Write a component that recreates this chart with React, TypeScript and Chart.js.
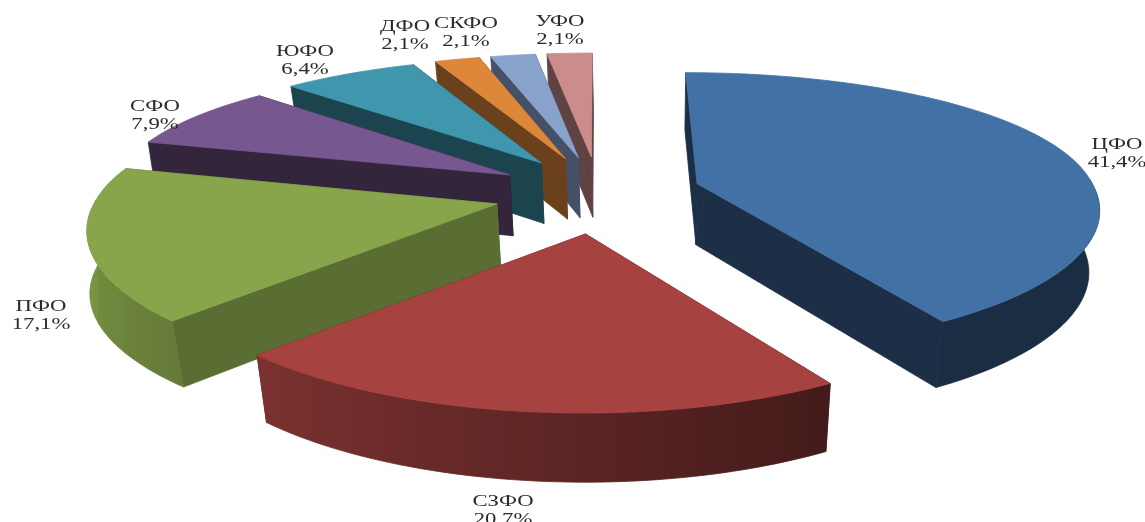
import React, { useEffect, useRef } from "react";
import { Chart, registerables } from "chart.js";

Chart.register(...registerables);

// Federal districts and their shares, percent
const districts = ["ЦФО", "СЗФО", "ПФО", "СФО", "ЮФО", "ДФО", "СКФО", "УФО"];
const shares = [41.4, 20.7, 17.1, 7.9, 6.4, 2.1, 2.1, 2.1];
const faceColors = ["#4271a6", "#a64341", "#88a54b", "#76578f", "#3f96ad", "#dd873b", "#89a2cc", "#cc8c8c"];
const sideShades = [0.42, 0.5, 0.66, 0.42, 0.45, 0.48, 0.5, 0.47];
const frontStretchV = [1.05, 1, 1.04, 1, 1, 1, 1, 1];
const frontStretchU = [1.025, 1.035, 1.015, 1, 1, 1, 1, 1];
const paintOrder = [7, 6, 5, 4, 3, 2, 0, 1];
const labelCenters = [
  [1117, 144.5], [503, 501.5], [41, 306.5], [155, 106.5], [305, 51.5], [405, 26.5], [466, 23.5], [560, 21.5],
];

// Oblique view of the pie plane
const VIEW = { cx: 598, cy: 193.7, rx: 399, ry: 133, px: 0.13, py: 0.17 };
const EXPLODE_X = 0.26;
const EXPLODE_Y = 0.29;

type Pt = [number, number];

function project(u: number, v: number): Pt {
  return [
    VIEW.cx + (VIEW.rx * u) / (1 - VIEW.px * v),
    VIEW.cy + (VIEW.ry * v) / (1 - VIEW.py * v),
  ];
}

// The bottom face sits below the top one and narrows slightly towards the vanishing point
function lower([x, y]: Pt): Pt {
  let shift = 0.024 * (650 - x);
  if (x < 172) shift = 3 + ((x - 87) / 85) * (0.024 * 478 - 3);
  return [x + shift, y + 61 + 0.035 * (y - 180)];
}

function shade(hex: string, f: number): string {
  const n = parseInt(hex.slice(1), 16);
  const c = [(n >> 16) & 255, (n >> 8) & 255, n & 255].map((ch) => Math.round(ch * f));
  return `rgb(${c[0]},${c[1]},${c[2]})`;
}

function fillPoly(ctx: CanvasRenderingContext2D, pts: Pt[], color: string | CanvasGradient) {
  ctx.beginPath();
  pts.forEach(([x, y], i) => (i ? ctx.lineTo(x, y) : ctx.moveTo(x, y)));
  ctx.closePath();
  ctx.fillStyle = color;
  ctx.strokeStyle = color;
  ctx.lineWidth = 0.8;
  ctx.lineJoin = "round";
  ctx.fill();
  ctx.stroke();
}

// Rim lighting falls off from the left of the pie towards the right
function rimShade(angle: number): number {
  let theta = ((angle + Math.PI / 2) * 180) / Math.PI;
  theta = ((theta % 360) + 360) % 360;
  if (theta > 285) return 0.92;
  return Math.min(0.92, Math.max(0.4, 0.4 + (theta - 149) * 0.0046));
}

function drawSlice(ctx: CanvasRenderingContext2D, arc: any, index: number) {
  const { startAngle, endAngle } = arc;
  const color = arc.options.backgroundColor as string;
  const mid = (startAngle + endAngle) / 2;
  const u0 = Math.cos(mid) * EXPLODE_X;
  const v0 = Math.sin(mid) * EXPLODE_Y;
  const apex = project(u0, v0);
  const steps = Math.max(2, Math.ceil((endAngle - startAngle) / 0.025));
  const rim: Pt[] = [];
  const angles: number[] = [];
  for (let i = 0; i <= steps; i++) {
    const a = startAngle + ((endAngle - startAngle) * i) / steps;
    const s = Math.sin(a);
    const c = Math.cos(a);
    const f = Math.max(s, 0);
    angles.push(a);
    rim.push(project(
      u0 + c * (1 + (frontStretchU[index] - 1) * f),
      v0 + s * (1 + (frontStretchV[index] - 1) * (s > 0 ? 1 : 0)),
    ));
  }

  // Radial walls first, then the part of the rim that faces the viewer, then the top face
  const sideColor = shade(color, sideShades[index]);
  const radial = [rim[0], rim[steps]].map((p) => ({
    pts: [apex, p, lower(p), lower(apex)] as Pt[],
    depth: (apex[1] + p[1]) / 2,
  }));
  radial.sort((a, b) => a.depth - b.depth);
  radial.forEach((w) => fillPoly(ctx, w.pts, sideColor));

  const front = rim.map((_, i) => i).filter((i) => Math.sin(angles[i]) > -0.05);
  if (front.length > 1) {
    const top = front.map((i) => rim[i]);
    const xs = top.map((p) => p[0]);
    const x0 = Math.min(...xs);
    const x1 = Math.max(...xs);
    const gradient = ctx.createLinearGradient(x0, 0, x1, 0);
    front.forEach((i) => {
      const stop = Math.min(1, Math.max(0, (rim[i][0] - x0) / (x1 - x0)));
      gradient.addColorStop(stop, shade(color, rimShade(angles[i])));
    });
    fillPoly(ctx, [...top, ...top.map(lower).reverse()], gradient);
  }
  fillPoly(ctx, [apex, ...rim], color);
}

function drawLabel(ctx: CanvasRenderingContext2D, index: number) {
  const [x, y] = labelCenters[index];
  const lines = [districts[index], `${shares[index].toFixed(1).replace(".", ",")}%`];
  ctx.fillStyle = "#2b2b2b";
  ctx.font = '16px "Liberation Serif"';
  ctx.textAlign = "center";
  ctx.textBaseline = "middle";
  lines.forEach((line, i) => {
    ctx.save();
    ctx.translate(x, y + i * 18.5);
    ctx.scale(1.42, 1);
    ctx.fillText(line, 0, 0);
    ctx.restore();
  });
}

const tiltedPie = {
  id: "tiltedPie",
  beforeDatasetDraw(chart: any) {
    const arcs = chart.getDatasetMeta(0).data;
    const ctx = chart.ctx as CanvasRenderingContext2D;
    paintOrder.forEach((i) => drawSlice(ctx, arcs[i], i));
    districts.forEach((_, i) => drawLabel(ctx, i));
    return false;
  },
};

export default function App() {
  const ref = useRef<HTMLCanvasElement>(null);

  useEffect(() => {
    const chart = new Chart(ref.current!, {
      type: "pie",
      data: {
        labels: districts,
        datasets: [{ data: shares, backgroundColor: faceColors, borderWidth: 0 }],
      },
      options: {
        responsive: false,
        animation: false,
        plugins: { legend: { display: false }, tooltip: { enabled: false } },
      },
      plugins: [tiltedPie],
    } as any);
    return () => chart.destroy();
  }, []);

  return (
    <div style={{ position: "fixed", left: 0, top: 0, width: 1145, height: 522, background: "#fff" }}>
      <canvas ref={ref} width={1145} height={522} style={{ display: "block" }} />
    </div>
  );
}
